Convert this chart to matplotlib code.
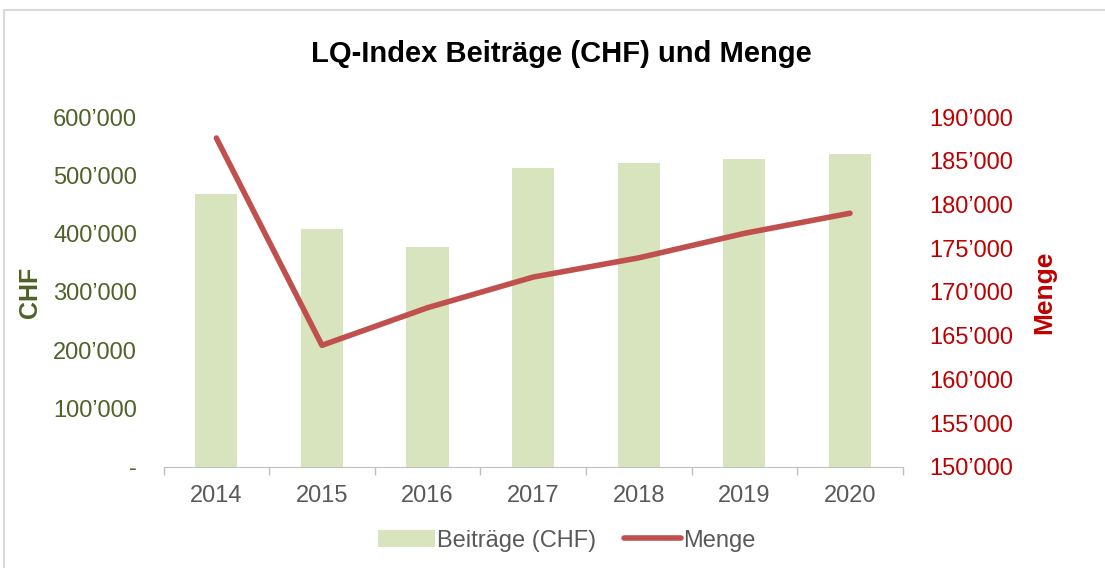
import matplotlib.pyplot as plt
import matplotlib.patches as mpatches
from matplotlib.ticker import FuncFormatter, MultipleLocator
import numpy as np

years = ['2014', '2015', '2016', '2017', '2018', '2019', '2020']
beitraege = [468000, 408000, 377000, 513000, 521000, 528000, 537000]
menge = [187600, 163900, 168200, 171700, 173900, 176700, 179000]

GREEN_TXT = '#4F6228'
RED_TXT = '#C00000'
GRAY_TXT = '#595959'
BAR_COL = '#D7E4BD'
LINE_COL = '#C0504D'

plt.rcParams['font.family'] = ['Liberation Sans', 'DejaVu Sans']


def fmt_left(v, pos):
    if v == 0:
        return '-'
    return f'{int(v):,}'.replace(',', '\u2019')


def fmt_right(v, pos):
    return f'{int(v):,}'.replace(',', '\u2019')


fig = plt.figure(figsize=(11.05, 5.68), dpi=100)
ax = fig.add_axes([0.148, 0.178, 0.669, 0.616])
x = np.arange(len(years))

ax.bar(x, beitraege, width=0.4, color=BAR_COL, label='Beiträge (CHF)', zorder=2)
ax.set_xlim(-0.5, len(years) - 0.5)
ax.set_ylim(0, 600000)
ax.yaxis.set_major_locator(MultipleLocator(100000))
ax.yaxis.set_major_formatter(FuncFormatter(fmt_left))
ax.tick_params(axis='y', length=0, labelsize=17, labelcolor=GREEN_TXT, pad=19)
ax.set_xticks(x)
ax.set_xticklabels(years)
ax.set_xticks(np.arange(-0.5, len(years)), minor=True)
ax.tick_params(axis='x', which='major', length=0, labelsize=17, labelcolor=GRAY_TXT, pad=13)
ax.tick_params(axis='x', which='minor', length=6, color='#BFBFBF', width=1)
for s in ['top', 'left', 'right']:
    ax.spines[s].set_visible(False)
ax.spines['bottom'].set_color('#BFBFBF')
ax.set_ylabel('CHF', fontsize=18, fontweight='bold', color=GREEN_TXT, labelpad=8)

ax2 = ax.twinx()
ax2.plot(x, menge, color=LINE_COL, linewidth=4, solid_capstyle='round', label='Menge', zorder=3)
ax2.set_ylim(150000, 190000)
ax2.yaxis.set_major_locator(MultipleLocator(5000))
ax2.yaxis.set_major_formatter(FuncFormatter(fmt_right))
ax2.tick_params(axis='y', length=0, labelsize=17, labelcolor=RED_TXT, pad=19)
for s in ['top', 'left', 'right', 'bottom']:
    ax2.spines[s].set_visible(False)
ax2.set_ylabel('Menge', fontsize=19, fontweight='bold', color=RED_TXT, labelpad=14)

fig.suptitle('LQ-Index Beiträge (CHF) und Menge', x=0.508, y=0.929, fontsize=21, fontweight='bold')

h1, l1 = ax.get_legend_handles_labels()
h2, l2 = ax2.get_legend_handles_labels()
fig.legend(h1 + h2, l1 + l2, loc='center', bbox_to_anchor=(0.513, 0.048), ncol=2, frameon=False,
           fontsize=17, labelcolor=GRAY_TXT, handlelength=2.4, handletextpad=0.1, columnspacing=1.2)

border = mpatches.Rectangle((4 / 1105, -0.1), 1.2, 1 - 10 / 568 + 0.1, transform=fig.transFigure,
                            fill=False, edgecolor='#D9D9D9', linewidth=1.5)
fig.patches.append(border)

fig.savefig('out.png', dpi=100)
